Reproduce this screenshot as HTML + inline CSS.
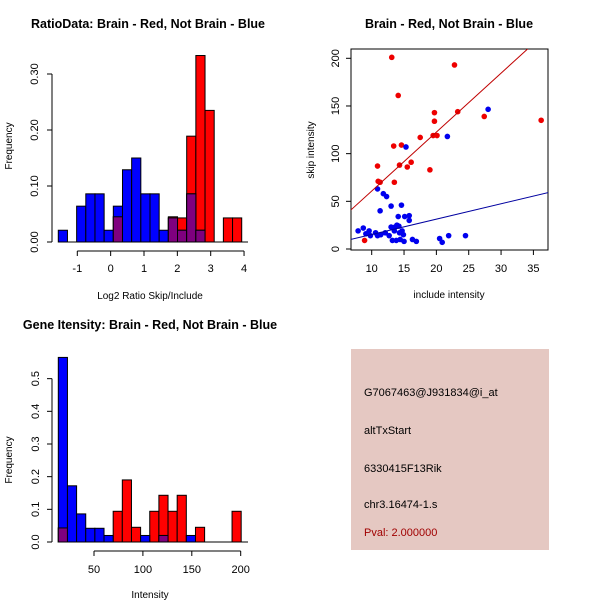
<!DOCTYPE html>
<html><head><meta charset="utf-8"><style>
html,body{margin:0;padding:0;background:#fff;}
svg{display:block;font-family:"Liberation Sans",sans-serif;}
</style></head><body>
<svg id="c" width="600" height="600" viewBox="0 0 600 600">
<rect x="351" y="349" width="198" height="201" fill="#e5c8c2"/>
<g font-size="11" fill="#000">
<text x="364" y="396">G7067463@J931834@i_at</text>
<text x="364" y="434">altTxStart</text>
<text x="364" y="472">6330415F13Rik</text>
<text x="364" y="508">chr3.16474-1.s</text>
<text x="364" y="536" fill="#a00000">Pval: 2.000000</text>
</g>
</svg>
<script>
// ---- Ratio histogram data ----
const ratioBreakStart = -1.57;
const ratioBinWidth = 0.275;
const ratioBlue = [0.021,0,0.064,0.086,0.086,0.021,0.064,0.129,0.15,0.086,0.086,0.021,0.043,0.021,0.086,0.021,0,0,0,0];
const ratioRed  = [0,0,0,0,0,0,0.045,0,0,0,0,0,0.045,0.043,0.189,0.333,0.235,0,0.043,0.043];
const ratioXTicks = [-1,0,1,2,3,4];
const ratioYTicks = ["0.00","0.10","0.20","0.30"];
const ratioYTickVals = [0,0.1,0.2,0.3];
// ---- Scatter data ----
const redX = [13.1,22.8,14.1,19.7,23.3,27.4,36.2,19.7,17.5,19.5,20.1,13.4,14.6,10.9,14.3,15.5,16.1,19.0,11.0,11.3,13.5,8.9];
const redY = [201,193,161,143,144,139,135,134,117,119,119,108,109,87,88,86,91,83,71,70,70,9];
const blueX = [28.0,21.7,15.3,10.9,11.8,12.3,13.0,14.6,11.3,14.1,15.1,15.8,15.8,7.9,8.7,9.6,9.1,9.8,10.6,10.9,11.4,12.1,12.7,13.0,13.5,13.6,13.9,14.2,13.2,13.8,14.4,14.3,14.7,14.9,15.0,16.3,16.9,20.5,20.9,21.9,24.5];
const blueY = [146.5,118,107,63,58,55,45,46,40,34,34,35,30,19,22,19,16,14,17,14,15,17,14,23,19,23,25,24,9,9,10,17,19,15,8,10,8,11,7,14,14];
const redFit = [-1.0, 6.18];   // intercept, slope
const blueFit = [-0.9, 1.61];
const scatterXTicks = [10,15,20,25,30,35];
const scatterYTicks = [0,50,100,150,200];
// ---- Intensity histogram data ----
const intBreakStart = 13.5;
const intBinWidth = 9.35;
const intBlue = [0.565,0.172,0.086,0.042,0.042,0.02,0,0,0,0.02,0,0.02,0,0,0.02,0,0,0,0,0];
const intRed  = [0.043,0,0,0,0,0,0.094,0.19,0.045,0,0.094,0.143,0.094,0.143,0,0.045,0,0,0,0.094];
const intXTicks = [50,100,150,200];
const intYTicks = ["0.0","0.1","0.2","0.3","0.4","0.5"];
const intYTickVals = [0,0.1,0.2,0.3,0.4,0.5];

const NS = "http://www.w3.org/2000/svg";
const svg = document.getElementById('c');
function mk(tag, attrs, parent){
  const e = document.createElementNS(NS, tag);
  for (const k in attrs) e.setAttribute(k, attrs[k]);
  (parent||svg).appendChild(e);
  return e;
}
function txt(s, x, y, attrs, parent){
  const e = mk('text', Object.assign({x:x,y:y}, attrs), parent);
  e.textContent = s;
  return e;
}

// ===== Panel 1: ratio histogram =====
(function(){
  const sx = v => 77.3 + (v - (-1)) * 33.35;
  const sy = v => 242 - v * 560;
  const g = mk('g', {});
  
  
  for (let i = 0; i < ratioRed.length; i++) {
    const x0 = sx(ratioBreakStart + i*ratioBinWidth), x1 = sx(ratioBreakStart + (i+1)*ratioBinWidth);
    if (ratioRed[i] > 0) {
      const r = mk('rect', {x:x0, y:sy(ratioRed[i]), width:x1-x0, height:242-sy(ratioRed[i]), fill:'#ff0000', stroke:'#000', 'stroke-width':1}, g);
      
      
    }
  }
  for (let i = 0; i < ratioBlue.length; i++) {
    const x0 = sx(ratioBreakStart + i*ratioBinWidth), x1 = sx(ratioBreakStart + (i+1)*ratioBinWidth);
    if (ratioBlue[i] > 0) {
      const r = mk('rect', {x:x0, y:sy(ratioBlue[i]), width:x1-x0, height:242-sy(ratioBlue[i]), fill:'#0000ff', stroke:'#000', 'stroke-width':1}, g);
      
      
    }
    const m = Math.min(ratioBlue[i], ratioRed[i]);
    if (m > 0) {
      const p = mk('rect', {x:x0, y:sy(m), width:x1-x0, height:242-sy(m), fill:'#7f007f', stroke:'#000', 'stroke-width':1}, g);
      
      
    }
  }
  const base = mk('line', {x1:sx(ratioBreakStart), x2:248, y1:242, y2:242, stroke:'#000'}, g);
  
  
  const xa = mk('g', {stroke:'#000'}, g);
  
  
  mk('line', {x1:sx(ratioXTicks[0]), x2:sx(ratioXTicks[ratioXTicks.length-1]), y1:251, y2:251}, xa);
  ratioXTicks.forEach(t => {
    mk('line', {x1:sx(t), x2:sx(t), y1:251, y2:256}, xa);
    const l = txt(String(t), sx(t), 272, {'font-size':11, 'text-anchor':'middle', stroke:'none'}, xa);
    
    
  });
  const ya = mk('g', {stroke:'#000'}, g);
  
  
  mk('line', {x1:52, x2:52, y1:sy(0), y2:sy(0.3)}, ya);
  ratioYTickVals.forEach((t, i) => {
    mk('line', {x1:47, x2:52, y1:sy(t), y2:sy(t)}, ya);
    const l = txt(ratioYTicks[i], 0, 0, {'font-size':11, 'text-anchor':'middle', stroke:'none', transform:`translate(38,${sy(t)}) rotate(-90)`}, ya);
    
    
  });
  const t1 = txt('RatioData: Brain - Red, Not Brain - Blue', 148, 28, {'font-size':12.5, 'font-weight':'bold', 'text-anchor':'middle'}, g);
  
  
  const xl = txt('Log2 Ratio Skip/Include', 150, 299, {'font-size':10, 'text-anchor':'middle'}, g);
  
  
  const yl = txt('Frequency', 0, 0, {'font-size':10, 'text-anchor':'middle', transform:'translate(12,146) rotate(-90)'}, g);
  
  
})();

// ===== Panel 2: scatter =====
(function(){
  const sx = v => 371.7 + (v - 10) * 6.468;
  const sy = v => 249 - v * 0.9535;
  const g = mk('g', {});
  
  
  const defs = mk('defs', {}, g);
  const cp = mk('clipPath', {id:'sclip'}, defs);
  mk('rect', {x:351, y:49, width:197, height:201}, cp);
  const box = mk('rect', {x:351, y:49, width:197, height:201, fill:'none', stroke:'#000'}, g);
  
  
  redX.forEach((x, i) => {
    const c = mk('circle', {cx:sx(x), cy:sy(redY[i]), r:2.8, fill:'#ee0000'}, g);
    
    
  });
  blueX.forEach((x, i) => {
    const c = mk('circle', {cx:sx(x), cy:sy(blueY[i]), r:2.8, fill:'#0000ee'}, g);
    
    
  });
  const xa0 = 5, xa1 = 40;
  const rl = mk('line', {x1:sx(xa0), y1:sy(redFit[0]+redFit[1]*xa0), x2:sx(xa1), y2:sy(redFit[0]+redFit[1]*xa1), stroke:'#c00000', 'clip-path':'url(#sclip)'}, g);
  
  
  const bl = mk('line', {x1:sx(xa0), y1:sy(blueFit[0]+blueFit[1]*xa0), x2:sx(xa1), y2:sy(blueFit[0]+blueFit[1]*xa1), stroke:'#0000a0', 'clip-path':'url(#sclip)'}, g);
  
  
  const xa = mk('g', {stroke:'#000'}, g);
  
  
  scatterXTicks.forEach(t => {
    mk('line', {x1:sx(t), x2:sx(t), y1:250, y2:255}, xa);
    const l = txt(String(t), sx(t), 272, {'font-size':11, 'text-anchor':'middle', stroke:'none'}, xa);
    
    
  });
  const ya = mk('g', {stroke:'#000'}, g);
  
  
  scatterYTicks.forEach(t => {
    mk('line', {x1:346, x2:351, y1:sy(t), y2:sy(t)}, ya);
    const l = txt(String(t), 0, 0, {'font-size':11, 'text-anchor':'middle', stroke:'none', transform:`translate(339,${sy(t)}) rotate(-90)`}, ya);
    
    
  });
  const t1 = txt('Brain - Red, Not Brain - Blue', 449, 28, {'font-size':12.5, 'font-weight':'bold', 'text-anchor':'middle'}, g);
  
  
  const xl = txt('include intensity', 449, 298, {'font-size':10, 'text-anchor':'middle'}, g);
  
  
  const yl = txt('skip intensity', 0, 0, {'font-size':10, 'text-anchor':'middle', transform:'translate(314,150) rotate(-90)'}, g);
  
  
})();

// ===== Panel 3: intensity histogram =====
(function(){
  const sx = v => 94 + (v - 50) * 0.978;
  const sy = v => 542 - v * 326.7;
  const g = mk('g', {});
  
  
  for (let i = 0; i < intRed.length; i++) {
    const x0 = sx(intBreakStart + i*intBinWidth), x1 = sx(intBreakStart + (i+1)*intBinWidth);
    if (intRed[i] > 0) {
      const r = mk('rect', {x:x0, y:sy(intRed[i]), width:x1-x0, height:542-sy(intRed[i]), fill:'#ff0000', stroke:'#000', 'stroke-width':1}, g);
      
      
    }
  }
  for (let i = 0; i < intBlue.length; i++) {
    const x0 = sx(intBreakStart + i*intBinWidth), x1 = sx(intBreakStart + (i+1)*intBinWidth);
    if (intBlue[i] > 0) {
      const r = mk('rect', {x:x0, y:sy(intBlue[i]), width:x1-x0, height:542-sy(intBlue[i]), fill:'#0000ff', stroke:'#000', 'stroke-width':1}, g);
      
      
    }
    const m = Math.min(intBlue[i], intRed[i]);
    if (m > 0) {
      const p = mk('rect', {x:x0, y:sy(m), width:x1-x0, height:542-sy(m), fill:'#7f007f', stroke:'#000', 'stroke-width':1}, g);
      
      
    }
  }
  const base = mk('line', {x1:sx(intBreakStart), x2:248, y1:542, y2:542, stroke:'#000'}, g);
  
  
  const xa = mk('g', {stroke:'#000'}, g);
  
  
  mk('line', {x1:sx(intXTicks[0]), x2:sx(intXTicks[intXTicks.length-1]), y1:551, y2:551}, xa);
  intXTicks.forEach(t => {
    mk('line', {x1:sx(t), x2:sx(t), y1:551, y2:556}, xa);
    const l = txt(String(t), sx(t), 573, {'font-size':11, 'text-anchor':'middle', stroke:'none'}, xa);
    
    
  });
  const ya = mk('g', {stroke:'#000'}, g);
  
  
  mk('line', {x1:52, x2:52, y1:sy(0), y2:sy(0.5)}, ya);
  intYTickVals.forEach((t, i) => {
    mk('line', {x1:47, x2:52, y1:sy(t), y2:sy(t)}, ya);
    const l = txt(intYTicks[i], 0, 0, {'font-size':11, 'text-anchor':'middle', stroke:'none', transform:`translate(39,${sy(t)}) rotate(-90)`}, ya);
    
    
  });
  const t1 = txt('Gene Itensity: Brain - Red, Not Brain - Blue', 150, 329, {'font-size':12.5, 'font-weight':'bold', 'text-anchor':'middle'}, g);
  
  
  const xl = txt('Intensity', 150, 598, {'font-size':10, 'text-anchor':'middle'}, g);
  
  
  const yl = txt('Frequency', 0, 0, {'font-size':10, 'text-anchor':'middle', transform:'translate(12,460) rotate(-90)'}, g);
  
  
})();
</script>
</body></html>
